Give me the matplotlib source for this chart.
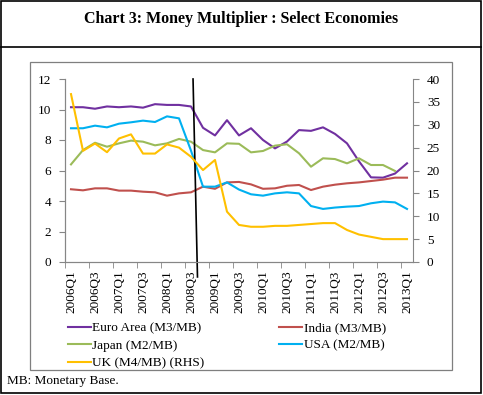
import numpy as np
import matplotlib.pyplot as plt
from matplotlib.patches import Rectangle
from matplotlib.lines import Line2D

plt.rcParams['font.family'] = ['Liberation Serif', 'DejaVu Serif']

quarters = [f"{y}Q{q}" for y in range(2006, 2014) for q in range(1, 5)][:29]

euro = [10.15, 10.15, 10.05, 10.2, 10.15, 10.2, 10.12, 10.35, 10.3, 10.3, 10.2,
        8.8, 8.3, 9.3, 8.3, 8.77, 8.0, 7.45, 7.9, 8.65, 8.6, 8.83, 8.4, 7.78,
        6.6, 5.55, 5.53, 5.8, 6.47]
india = [4.77, 4.7, 4.83, 4.83, 4.68, 4.68, 4.61, 4.57, 4.35, 4.5, 4.57,
         4.94, 4.8, 5.22, 5.25, 5.09, 4.8, 4.83, 5.0, 5.05, 4.72, 4.94, 5.07,
         5.16, 5.22, 5.31, 5.4, 5.53, 5.53]
japan = [6.4, 7.34, 7.82, 7.56, 7.78, 7.96, 7.89, 7.65, 7.78, 8.07, 7.89,
         7.34, 7.19, 7.78, 7.75, 7.19, 7.28, 7.63, 7.72, 7.13, 6.25, 6.8, 6.75,
         6.47, 6.8, 6.36, 6.36, 5.97, np.nan]
usa = [8.77, 8.77, 8.94, 8.83, 9.07, 9.16, 9.27, 9.18, 9.55, 9.42, 7.3,
       4.94, 4.94, 5.22, 4.75, 4.44, 4.35, 4.5, 4.57, 4.5, 3.67, 3.48, 3.57,
       3.63, 3.67, 3.85, 3.96, 3.91, 3.48]
uk = [36.7, 24.3, 25.9, 24.0, 27.0, 27.9, 23.7, 23.7, 25.7, 25.0, 23.0,
      20.1, 22.3, 11.0, 8.1, 7.7, 7.7, 7.9, 7.9, 8.1, 8.3, 8.5, 8.5,
      7.0, 6.0, 5.5, 5.0, 5.0, 5.0]

W, H = 483, 395
fig = plt.figure(figsize=(W / 100, H / 100), dpi=100)


def fx(px):
    return px / W


def fy(py):
    return 1 - py / H


# frame around everything, title strip, inner chart box
fig.add_artist(Rectangle((fx(1), fy(393)), fx(480), 392 / H, transform=fig.transFigure,
                         fill=False, ec='black', lw=1.2))
fig.add_artist(Line2D([fx(1), fx(481)], [fy(47), fy(47)], transform=fig.transFigure,
                      color='black', lw=1.2))
fig.add_artist(Rectangle((fx(30), fy(370)), fx(422), 308 / H, transform=fig.transFigure,
                         fill=False, ec='#7f7f7f', lw=0.9))
fig.text(0.5, fy(19), "Chart 3: Money Multiplier : Select Economies", ha='center',
         va='center', fontsize=11.5, fontweight='bold')
fig.text(fx(7), fy(381), "MB: Monetary Base.", ha='left', va='center', fontsize=9.5)

ax = fig.add_axes([fx(65), fy(262), fx(348), 183 / H])
ax2 = ax.twinx()

x = np.arange(len(quarters))
ax.plot(x, euro, color='#7030A0', lw=1.5, label='Euro Area (M3/MB)')
ax.plot(x, india, color='#C0504D', lw=1.5, label='India (M3/MB)')
ax.plot(x, japan, color='#9BBB59', lw=1.5, label='Japan (M2/MB)')
ax.plot(x, usa, color='#00B0F0', lw=1.5, label='USA (M2/MB)')
ax2.plot(x, uk, color='#FFC000', lw=1.5, label='UK (M4/MB) (RHS)')

ax.set_xlim(-0.5, len(quarters) - 0.5)
ax.set_ylim(0, 12)
ax2.set_ylim(0, 40)
ax.set_yticks(range(0, 13, 2))
ax2.set_yticks(range(0, 41, 5))

ax.set_xticks(x[::2])
ax.set_xticklabels(quarters[::2], rotation=90)
ax.set_xticks(np.arange(-0.5, len(quarters), 2), minor=True)
ax.tick_params(axis='x', which='major', length=0, pad=6, labelsize=9.5)
ax.tick_params(axis='x', which='minor', length=4, color='#868686')
ax.tick_params(axis='y', length=4, color='#868686', labelsize=9.5, pad=6)
ax2.tick_params(axis='y', length=4, color='#868686', labelsize=9.5, pad=6)

for a in (ax, ax2):
    a.spines['top'].set_visible(False)
    for s in ('left', 'right', 'bottom'):
        a.spines[s].set_color('#868686')
        a.spines[s].set_linewidth(0.8)
ax.spines['right'].set_visible(False)

# event marker line (Sept 2008)
ax.plot([10.17, 10.54], [12, -0.98], color='black', lw=1.2, clip_on=False, zorder=5)

h1, l1 = ax.get_legend_handles_labels()
h2, l2 = ax2.get_legend_handles_labels()
handles = [h1[0], h1[2], h2[0], h1[1], h1[3]]
labels = [l1[0], l1[2], l2[0], l1[1], l1[3]]
fig.legend(handles, labels, ncol=2, loc='upper left', bbox_to_anchor=(fx(68), fy(322)),
           frameon=False, fontsize=9.5, handlelength=1.75, handletextpad=0.1,
           labelspacing=0.4, columnspacing=5.65, borderpad=0, borderaxespad=0)

fig.savefig('out.png', dpi=100)
